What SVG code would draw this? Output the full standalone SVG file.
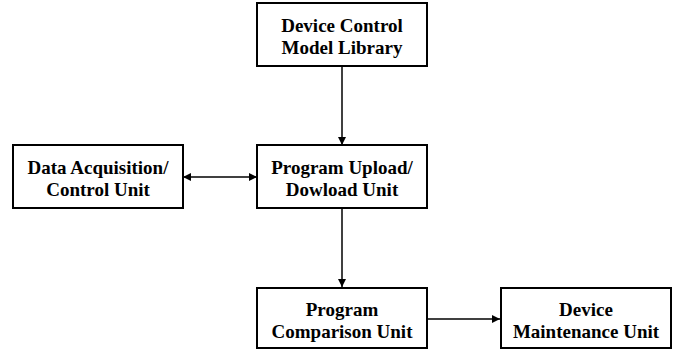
<svg xmlns="http://www.w3.org/2000/svg" width="675" height="350" viewBox="0 0 675 350">
<defs>
<style>
.box{fill:#fff;stroke:#000;stroke-width:2}
.t{font-family:"Liberation Serif","Times New Roman",serif;font-weight:bold;font-size:19px;text-anchor:middle;fill:#000}
.c{stroke:#000;stroke-width:1.5;fill:none}
</style>
<marker id="ah" viewBox="0 0 10 10" refX="10" refY="5" markerWidth="8" markerHeight="8" markerUnits="userSpaceOnUse" orient="auto-start-reverse">
<path d="M0,0 L10,5 L0,10 z" fill="#000"/>
</marker>
</defs>
<g id="connectors">
<line class="c" x1="342" y1="66" x2="342" y2="145" marker-end="url(#ah)"/>
<line class="c" x1="183" y1="177" x2="257" y2="177" marker-start="url(#ah)" marker-end="url(#ah)"/>
<line class="c" x1="342" y1="208" x2="342" y2="287" marker-end="url(#ah)"/>
<line class="c" x1="427" y1="319" x2="500" y2="319" marker-end="url(#ah)"/>
</g>
<g id="library">
<rect class="box" x="257" y="3" width="170" height="63"/>
<text class="t" x="342" y="32">Device Control</text>
<text class="t" x="342" y="54">Model Library</text>
</g>
<g id="acquisition">
<rect class="box" x="13" y="145" width="170" height="63"/>
<text class="t" x="98" y="174">Data Acquisition/</text>
<text class="t" x="98" y="196">Control Unit</text>
</g>
<g id="upload">
<rect class="box" x="257" y="145" width="170" height="63"/>
<text class="t" x="342" y="174">Program Upload/</text>
<text class="t" x="342" y="196">Dowload Unit</text>
</g>
<g id="comparison">
<rect class="box" x="257" y="288" width="170" height="60"/>
<text class="t" x="342" y="316">Program</text>
<text class="t" x="342" y="338">Comparison Unit</text>
</g>
<g id="maintenance">
<rect class="box" x="501" y="288" width="170" height="60"/>
<text class="t" x="586" y="316">Device</text>
<text class="t" x="586" y="338">Maintenance Unit</text>
</g>
</svg>
